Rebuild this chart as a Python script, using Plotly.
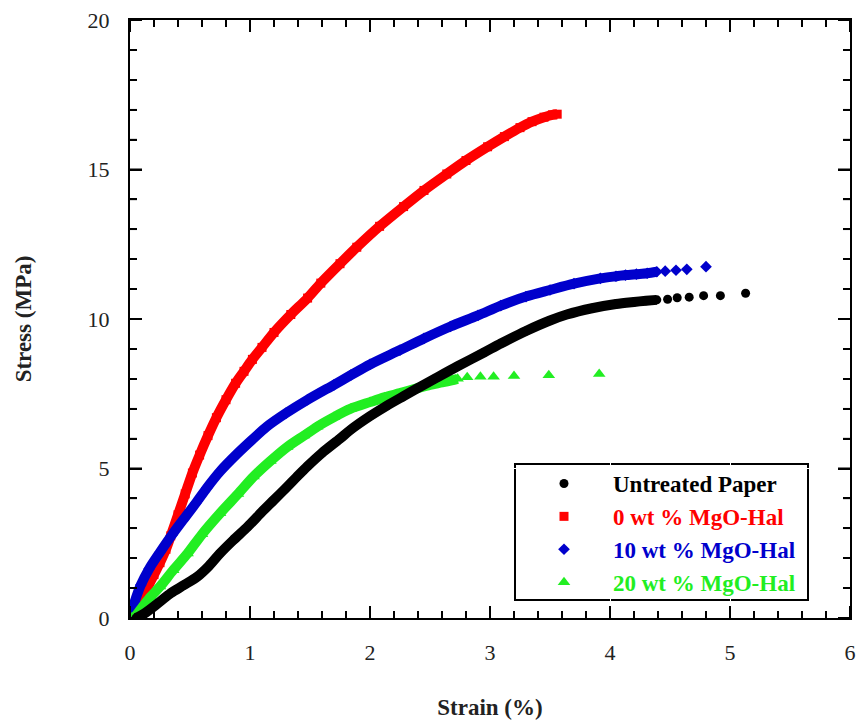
import plotly.graph_objects as go

# ---------------- data ----------------
untreated_x = [0.05, 0.12, 0.22, 0.34, 0.45, 0.56, 0.66, 0.75, 0.86, 0.98, 1.10, 1.20, 1.30, 1.39,
               1.48, 1.60, 1.75, 1.84, 2.00, 2.14, 2.28, 2.39, 2.53, 2.73, 2.95, 3.09, 3.30, 3.50,
               3.64, 3.85, 4.05, 4.20, 4.30, 4.39, 4.48, 4.56, 4.66, 4.78, 4.92, 5.13]
untreated_y = [0.00, 0.15, 0.45, 0.83, 1.10, 1.38, 1.75, 2.16, 2.60, 3.05, 3.55, 3.95, 4.35, 4.72,
               5.08, 5.52, 6.00, 6.30, 6.75, 7.10, 7.42, 7.67, 7.98, 8.42, 8.88, 9.18, 9.60, 9.95,
               10.15, 10.36, 10.50, 10.57, 10.61, 10.64, 10.66, 10.71, 10.73, 10.78, 10.78, 10.86]
untreated_dense = 34

mgo0_x = [0.00, 0.05, 0.10, 0.15, 0.20, 0.25, 0.30, 0.34, 0.40, 0.46, 0.52, 0.58, 0.65, 0.72,
          0.80, 0.88, 0.95, 1.02, 1.10, 1.20, 1.34, 1.48, 1.59, 1.75, 1.89, 2.08, 2.28, 2.45,
          2.64, 2.80, 2.98, 3.12, 3.25, 3.35, 3.45, 3.52, 3.56]
mgo0_y = [0.00, 0.30, 0.65, 1.05, 1.45, 1.85, 2.30, 2.75, 3.45, 4.15, 4.85, 5.45, 6.10, 6.70,
          7.30, 7.85, 8.25, 8.65, 9.05, 9.55, 10.15, 10.70, 11.20, 11.85, 12.40, 13.10, 13.76,
          14.30, 14.85, 15.30, 15.76, 16.10, 16.40, 16.60, 16.75, 16.83, 16.85]
mgo0_dense = 37

mgo10_x = [0.00, 0.04, 0.09, 0.16, 0.25, 0.35, 0.45, 0.55, 0.64, 0.75, 0.89, 1.02, 1.14, 1.30,
           1.48, 1.70, 1.84, 2.00, 2.25, 2.45, 2.67, 2.90, 3.09, 3.30, 3.50, 3.70, 3.92, 4.05,
           4.13, 4.22, 4.31, 4.39, 4.46, 4.55, 4.64, 4.80]
mgo10_y = [0.00, 0.55, 1.10, 1.65, 2.20, 2.78, 3.32, 3.85, 4.35, 4.90, 5.48, 5.97, 6.40, 6.85,
           7.30, 7.80, 8.12, 8.48, 8.96, 9.35, 9.75, 10.12, 10.45, 10.75, 10.97, 11.18, 11.36,
           11.43, 11.47, 11.50, 11.53, 11.58, 11.60, 11.63, 11.66, 11.75]
mgo10_dense = 32

mgo20_x = [0.00, 0.04, 0.10, 0.17, 0.25, 0.36, 0.48, 0.60, 0.75, 0.90, 1.03, 1.17, 1.31, 1.45,
           1.56, 1.70, 1.84, 2.00, 2.12, 2.25, 2.39, 2.50, 2.60, 2.68, 2.73, 2.81, 2.92, 3.03,
           3.20, 3.49, 3.91]
mgo20_y = [0.00, 0.05, 0.35, 0.70, 1.05, 1.60, 2.16, 2.80, 3.50, 4.15, 4.73, 5.25, 5.72, 6.10,
           6.40, 6.72, 7.00, 7.22, 7.38, 7.52, 7.68, 7.80, 7.88, 7.95, 8.00, 8.05, 8.07, 8.07,
           8.09, 8.12, 8.16]
mgo20_dense = 25

names = ["Untreated Paper", "0 wt % MgO-Hal", "10 wt % MgO-Hal", "20 wt % MgO-Hal"]
colors = ["#000000", "#FF0000", "#0000CC", "#22EE22"]
symbols = ["circle", "square", "diamond", "triangle-up"]
sizes = [9, 9, 9, 11]
x_ticks = [0, 1, 2, 3, 4, 5, 6]
y_ticks = [0, 5, 10, 15, 20]
x_minor_step = 0.2
y_minor_step = 1

series = [
    (untreated_x, untreated_y, untreated_dense),
    (mgo0_x, mgo0_y, mgo0_dense),
    (mgo10_x, mgo10_y, mgo10_dense),
    (mgo20_x, mgo20_y, mgo20_dense),
]

FONT = "Liberation Serif, Times New Roman, serif"
W, H = 858, 722
ML, MR, MT, MB = 130, 8, 20, 104
PW, PH = W - ML - MR, H - MT - MB
MAJ_LEN, MIN_LEN = 12, 7

fig = go.Figure()
draw_order = [1, 2, 3, 0]
for i in draw_order:
    xs, ys, nd = series[i]
    # dense band of overlapping markers
    fig.add_trace(go.Scatter(
        x=xs[:nd], y=ys[:nd], mode="lines",
        line=dict(color=colors[i], width=10, shape="spline", smoothing=0.8),
        showlegend=False, hoverinfo="skip",
    ))
    fig.add_trace(go.Scatter(
        x=xs, y=ys, mode="markers",
        marker=dict(symbol=symbols[i], size=sizes[i], color=colors[i], line=dict(width=0)),
        name=f"<span style='color:{colors[i]}'>{names[i]}</span>",
        legendrank=i + 1,
    ))

fig.update_xaxes(
    showline=True, linecolor="black", linewidth=2, mirror="allticks",
    ticks="inside", ticklen=MAJ_LEN, tickwidth=2, tickcolor="black",
    range=[x_ticks[0], x_ticks[-1]], tickvals=x_ticks,
    minor=dict(ticks="inside", ticklen=MIN_LEN, tickwidth=1.5, tickcolor="black", dtick=x_minor_step),
    gridcolor="white", zerolinecolor="white",
    ticklabelstandoff=14,
    tickfont=dict(family=FONT, size=22, color="#222222"),
    title=dict(text="<b>Strain (%)</b>", font=dict(family=FONT, size=23, color="#222222"), standoff=34),
)
fig.update_yaxes(
    showline=True, linecolor="black", linewidth=2, mirror="allticks",
    ticks="inside", ticklen=MAJ_LEN, tickwidth=2, tickcolor="black",
    range=[y_ticks[0], y_ticks[-1]], tickvals=y_ticks,
    minor=dict(ticks="inside", ticklen=MIN_LEN, tickwidth=1.5, tickcolor="black", dtick=y_minor_step),
    gridcolor="white", zerolinecolor="white",
    ticklabelstandoff=14,
    tickfont=dict(family=FONT, size=22, color="#222222"),
    title=dict(text="<b>Stress (MPa)</b>", font=dict(family=FONT, size=23, color="#222222"), standoff=50),
)

# tick marks on all four sides, placed through the axis scales (x/y refs)
tick_shapes = []
nx = int(round((x_ticks[-1] - x_ticks[0]) / x_minor_step))
for k in range(nx + 1):
    xv = round(x_ticks[0] + k * x_minor_step, 6)
    major = any(abs(xv - t) < 1e-9 for t in x_ticks)
    ln = (MAJ_LEN if major else MIN_LEN) / PH
    wd = 2 if major else 1.5
    for y0, y1 in ((0, ln), (1, 1 - ln)):
        tick_shapes.append(dict(type="line", xref="x", yref="paper", x0=xv, x1=xv, y0=y0, y1=y1,
                                line=dict(color="black", width=wd), layer="above"))
ny = int(round((y_ticks[-1] - y_ticks[0]) / y_minor_step))
for k in range(ny + 1):
    yv = round(y_ticks[0] + k * y_minor_step, 6)
    major = any(abs(yv - t) < 1e-9 for t in y_ticks)
    ln = (MAJ_LEN if major else MIN_LEN) / PW
    wd = 2 if major else 1.5
    for x0, x1 in ((0, ln), (1, 1 - ln)):
        tick_shapes.append(dict(type="line", xref="paper", yref="y", x0=x0, x1=x1, y0=yv, y1=yv,
                                line=dict(color="black", width=wd), layer="above"))

legend_frame = dict(type="rect", xref="paper", yref="paper",
                    x0=(515 - ML) / PW, x1=(808 - ML) / PW,
                    y0=(MT + PH - 600) / PH, y1=(MT + PH - 464) / PH,
                    line=dict(color="black", width=2), fillcolor="white", layer="below")

fig.update_layout(
    width=W, height=H,
    margin=dict(l=ML, r=MR, t=MT, b=MB, autoexpand=False),
    plot_bgcolor="white", paper_bgcolor="white",
    showlegend=True,
    legend=dict(
        x=(515 - ML) / PW, y=(MT + PH - 462) / PH, xanchor="left", yanchor="top",
        bgcolor="rgba(255,255,255,0)", borderwidth=0,
        font=dict(family=FONT, size=23, color="#111111", weight="bold"),
        itemwidth=88, tracegroupgap=0,
    ),
    shapes=[legend_frame] + tick_shapes,
)

fig.write_html("out.html")
